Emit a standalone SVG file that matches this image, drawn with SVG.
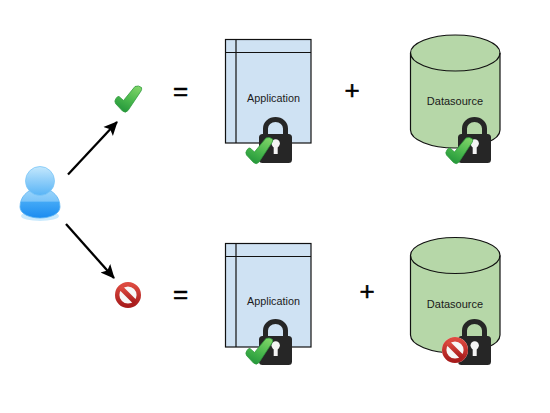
<svg xmlns="http://www.w3.org/2000/svg" width="550" height="413" viewBox="0 0 550 413">
<style>
.shape{stroke:#111;stroke-width:1.2}
.app{fill:#cfe2f3}
.db{fill:#b6d7a8}
.inner{fill:none;stroke:#111;stroke-width:1.2}
.label{font-family:"Liberation Sans",Arial,sans-serif;font-size:10.800px;fill:#1a1a1a;text-anchor:middle}
.dbl{font-size:11px}
.op{font-family:"Liberation Sans",Arial,sans-serif;font-size:26px;fill:#000;stroke:#000;stroke-width:0.500;text-anchor:middle}
.conn{stroke:#000;stroke-width:2.300;fill:none;marker-end:url(#arrow)}
</style>
<defs>
<marker id="arrow" markerUnits="userSpaceOnUse" markerWidth="15" markerHeight="15" refX="13" refY="7" orient="auto"><path d="M0 0.500L14 7L0 13.500L3 7Z" fill="#000"/></marker>
<linearGradient id="gCheck" x1="0.800" y1="0" x2="0.300" y2="1"><stop offset="0" stop-color="#7fd468"/><stop offset="0.550" stop-color="#48b64c"/><stop offset="1" stop-color="#23963a"/></linearGradient>
<linearGradient id="gNo" x1="0" y1="0" x2="0" y2="1"><stop offset="0" stop-color="#dd4a40"/><stop offset="1" stop-color="#a81c1c"/></linearGradient>
<linearGradient id="gHead" x1="0" y1="0" x2="0" y2="1"><stop offset="0" stop-color="#c4e8fd"/><stop offset="0.500" stop-color="#8dcdf9"/><stop offset="1" stop-color="#58b4f6"/></linearGradient>
<linearGradient id="gBody" x1="0" y1="0" x2="0" y2="1"><stop offset="0" stop-color="#9ed6fb"/><stop offset="0.420" stop-color="#7cc5f9"/><stop offset="0.450" stop-color="#42a8f6"/><stop offset="1" stop-color="#1c8cf0"/></linearGradient>
<g id="check">
<path d="M5 11L9.500 15L21 1Q24.500 -0.500 27.500 2Q28 4 27 5.500L14 25Q11.500 28 8.500 25.500L1.500 18Q0 15.500 2 13Q3.500 10.500 5 11Z" fill="url(#gCheck)" stroke="#2f9a3c" stroke-width="0.800"/>
</g>
<g id="no">
<circle r="13" fill="#f7f7f7"/>
<circle r="10.800" fill="none" stroke="url(#gNo)" stroke-width="4.400"/>
<path d="M-7.500 -7.500L7.500 7.500" stroke="url(#gNo)" stroke-width="5"/>
</g>
<g id="lock">
<path d="M6.500 2V-5.500A10 9 0 0 1 26.500 -5.500V2" fill="none" stroke="#262626" stroke-width="5"/>
<rect x="0" y="0" width="33" height="29" rx="3.500" fill="#262626"/>
<circle cx="16.700" cy="9.500" r="4.200" fill="#f4f4f4"/>
<rect x="14.700" y="10" width="4" height="10" fill="#f4f4f4"/>
</g>
</defs>
<g id="connectors">
<path class="conn" d="M68 174.500L117 122"/>
<path class="conn" d="M66 224L114 278"/>
</g>
<g id="user">
<ellipse cx="40" cy="216" rx="19" ry="5" fill="#a9dcfb" opacity="0.600"/>
<path d="M20 207C20 196 28 191 33 189H47C52 191 60 196 60 207C60 214 50 218 40 218S20 214 20 207Z" fill="url(#gBody)" stroke="#5cb4f2" stroke-width="0.800"/>
<circle cx="40" cy="181" r="14.500" fill="url(#gHead)" stroke="#7cc6f7" stroke-width="0.800"/>
</g>
<g id="allow-icon"><use href="#check" transform="translate(114,85.500)"/></g>
<g id="deny-icon"><use href="#no" transform="translate(128,295)"/></g>
<g id="eq-top"><text class="op" x="180.500" y="99.500">=</text></g>
<g id="eq-bottom"><text class="op" x="180.500" y="303">=</text></g>
<g id="plus-top"><text class="op" x="352" y="99">+</text></g>
<g id="plus-bottom"><text class="op" x="367" y="300">+</text></g>
<g id="app-top">
<rect class="shape app" x="225.500" y="39.500" width="85.500" height="103.500"/>
<path class="inner" d="M236 39.500V143M225.500 52.500H311"/>
<text class="label" x="273.500" y="102">Application</text>
<use href="#lock" transform="translate(259,134)"/>
<use href="#check" transform="translate(245,137)"/>
</g>
<g id="db-top">
<path class="shape db" d="M410.500 53V130A44.750 18 0 0 0 500 130V53A44.750 18 0 0 0 410.500 53Z"/>
<path class="inner" d="M410.500 53A44.750 18 0 0 0 500 53"/>
<text class="label dbl" x="455" y="105">Datasource</text>
<use href="#lock" transform="translate(458,134)"/>
<use href="#check" transform="translate(445,137)"/>
</g>
<g id="app-bottom">
<rect class="shape app" x="225.500" y="243.500" width="85.500" height="103.500"/>
<path class="inner" d="M236 243.500V347M225.500 256.500H311"/>
<text class="label" x="273.500" y="305">Application</text>
<use href="#lock" transform="translate(259,336)"/>
<use href="#check" transform="translate(245,337.500)"/>
</g>
<g id="db-bottom">
<path class="shape db" d="M410.500 255.500V335A44.750 18 0 0 0 500 335V255.500A44.750 18 0 0 0 410.500 255.500Z"/>
<path class="inner" d="M410.500 255.500A44.750 18 0 0 0 500 255.500"/>
<text class="label dbl" x="455" y="308">Datasource</text>
<use href="#lock" transform="translate(458,336)"/>
<use href="#no" transform="translate(455,350)"/>
</g>
</svg>
